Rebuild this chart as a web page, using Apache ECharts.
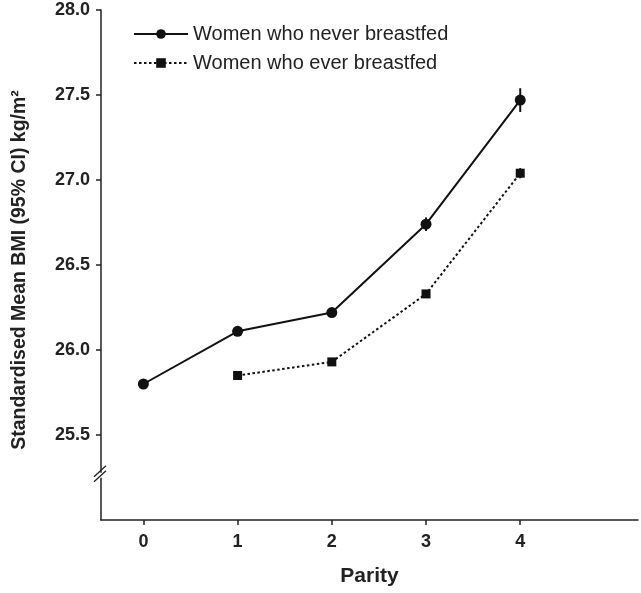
<!DOCTYPE html>
<html>
<head>
<meta charset="utf-8">
<script src="https://cdn.jsdelivr.net/npm/echarts@6/dist/echarts.min.js"></script>
<style>html,body{margin:0;padding:0;background:#fff}#c{width:641px;height:593px}</style>
</head>
<body>
<div id="c"></div>
<script>
var parity = [0, 1, 2, 3, 4];
var xTickLabels = ['0', '1', '2', '3', '4'];
var yTickValues = [25.5, 26.0, 26.5, 27.0, 27.5, 28.0];
var neverX = [0, 1, 2, 3, 4];
var neverMean = [25.80, 26.11, 26.22, 26.74, 27.47];
var neverLow = [25.78, 26.09, 26.20, 26.70, 27.40];
var neverHigh = [25.82, 26.13, 26.24, 26.78, 27.54];
var everX = [1, 2, 3, 4];
var everMean = [25.85, 25.93, 26.33, 27.04];
var everLow = [25.83, 25.91, 26.31, 27.01];
var everHigh = [25.87, 25.95, 26.35, 27.07];

var FONT = '"Liberation Sans", Arial, Helvetica, sans-serif';
var chart = echarts.init(document.getElementById('c'));

function pairs(xs, ys) { return xs.map(function (x, i) { return [x, ys[i]]; }); }
function errData(xs, lo, hi) { return xs.map(function (x, i) { return [x, lo[i], hi[i]]; }); }

function errRender(params, api) {
  var x = api.value(0);
  var p1 = api.coord([x, api.value(1)]);
  var p2 = api.coord([x, api.value(2)]);
  return {
    type: 'line', shape: { x1: p1[0], y1: p1[1], x2: p2[0], y2: p2[1] }, style: { stroke: '#111', lineWidth: 2 }
  };
}

chart.setOption({
  animation: false,
  grid: { left: 101, right: 3, top: 10, bottom: 73, containLabel: false },
  legend: {
    orient: 'vertical', left: 128, top: 18, itemWidth: 54, itemHeight: 12, itemGap: 7,
    data: ['Women who never breastfed', 'Women who ever breastfed'],
    textStyle: { fontFamily: FONT, fontSize: 20, color: '#222', lineHeight: 22 }
  },
  xAxis: {
    type: 'value', min: -0.45, max: 5.25,
    name: 'Parity', nameLocation: 'middle', nameGap: 46,
    nameTextStyle: { fontFamily: FONT, fontSize: 21, fontWeight: 'bold', color: '#222' },
    axisLine: { show: true, onZero: false, lineStyle: { color: '#222', width: 1.5 } },
    axisTick: { show: true, inside: false, length: 5, customValues: parity, lineStyle: { color: '#222', width: 1.5 } },
    axisLabel: { customValues: parity, margin: 13, fontFamily: FONT, fontSize: 18, fontWeight: 'bold', color: '#222',
      formatter: function (v) { return xTickLabels[parity.indexOf(v)]; } },
    splitLine: { show: false }
  },
  yAxis: {
    type: 'value', min: 25.0, max: 28.0,
    name: 'Standardised Mean BMI (95% CI) kg/m²', nameLocation: 'middle', nameGap: 71, nameRotate: 90,
    nameTextStyle: { fontFamily: FONT, fontSize: 19.5, fontWeight: 'bold', color: '#222', padding: [0, 0, 0, -10] },
    axisLine: { show: true, onZero: false, lineStyle: { color: '#222', width: 1.5 } },
    axisTick: { show: true, inside: false, length: 5, customValues: yTickValues, lineStyle: { color: '#222', width: 1.5 } },
    axisLabel: { customValues: yTickValues, margin: 11, fontFamily: FONT, fontSize: 18, fontWeight: 'bold', color: '#222',
      formatter: function (v) { return v.toFixed(1); } },
    splitLine: { show: false }
  },
  series: [
    {
      name: 'Women who never breastfed', type: 'line', data: pairs(neverX, neverMean),
      symbol: 'circle', symbolSize: 11, z: 3,
      lineStyle: { color: '#111', width: 2 }, itemStyle: { color: '#111' }
    },
    {
      name: 'Women who ever breastfed', type: 'line', data: pairs(everX, everMean),
      symbol: 'rect', symbolSize: 9, z: 3,
      lineStyle: { color: '#111', width: 2, type: [2.5, 2.5] }, itemStyle: { color: '#111' }
    },
    { type: 'custom', renderItem: errRender, data: errData(neverX, neverLow, neverHigh), z: 4, silent: true },
    { type: 'custom', renderItem: errRender, data: errData(everX, everLow, everHigh), z: 4, silent: true }
  ]
});

// axis break marks
var yb = chart.convertToPixel({ xAxisIndex: 0, yAxisIndex: 0 }, [-0.45, 25.26]);
var bx = yb[0], by = yb[1];
chart.setOption({
  graphic: [
    { type: 'rect', shape: { x: bx - 3, y: by - 3, width: 6, height: 5 }, style: { fill: '#fff' }, z: 10 },
    { type: 'line', shape: { x1: bx - 7, y1: by + 1, x2: bx + 5, y2: by - 10 }, style: { stroke: '#222', lineWidth: 1.3 }, z: 11 },
    { type: 'line', shape: { x1: bx - 7, y1: by + 6, x2: bx + 5, y2: by - 5 }, style: { stroke: '#222', lineWidth: 1.3 }, z: 11 }
  ]
});
</script>
</body>
</html>
